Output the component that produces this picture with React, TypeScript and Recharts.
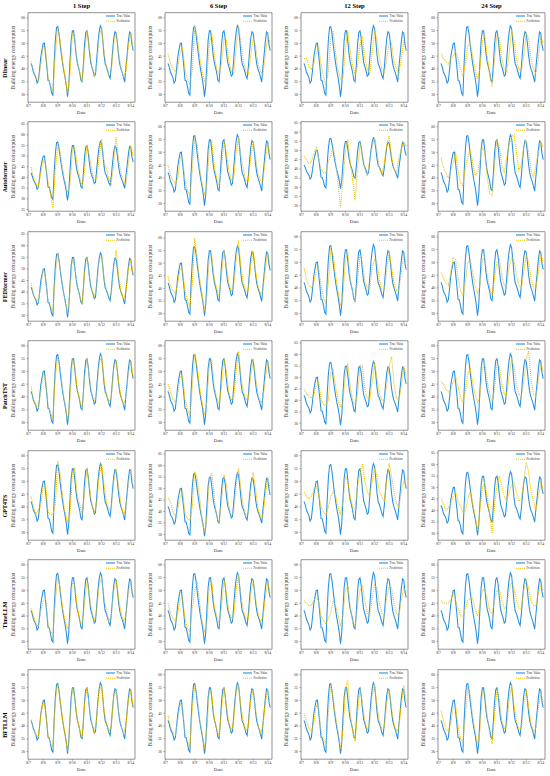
import { LineChart, Line, XAxis, YAxis, ReferenceArea } from 'recharts';

const FONT = '"Liberation Serif", "Times New Roman", serif';
const TRUE_COLOR = '#2590e0';
const PRED_COLOR = '#f2c300';

const steps = ['1 Step', '6 Step', '12 Step', '24 Step'];
const models = ['Dlinear', 'Autoformer', 'FEDformer', 'PatchTST', 'GPT4TS', 'TimeLLM', 'BFTLLM'];
const dateTicks = ['8/7', '8/8', '8/9', '8/10', '8/11', '8/12', '8/13', '8/14'];

// true value, every 2 hours from 8/7 04:00
const trueValue = [
  42.2, 40.8, 38.7, 37.7, 36.6, 34.5, 35.4, 39.6, 44.6, 47.5,
  49.9, 50.1, 45.6, 41.0, 35.5, 35.3, 33.1, 30.5, 29.8, 42.3, 51.2, 56.3,
  56.6, 53.8, 49.5, 45.6, 42.1, 39.1, 36.6, 33.5, 29.2, 33.4, 42.7, 51.3,
  54.9, 54.9, 50.8, 45.9, 42.6, 40.7, 38.6, 35.6, 35.0, 41.5, 49.5, 54.3,
  54.9, 52.0, 46.8, 42.6, 40.9, 39.2, 37.2, 37.8, 43.8, 50.0, 54.4, 56.9,
  55.9, 51.1, 45.5, 41.9, 40.9, 39.2, 37.4, 36.3, 40.6, 46.6, 52.0, 54.6,
  54.0, 50.1, 45.2, 41.8, 39.9, 38.6, 36.8, 34.9, 40.6, 45.6, 50.8, 54.5,
  54.0, 49.5, 47.2,
];

// predictions, every 4 hours from 8/7 04:00
const dlinear1 = [43, 39.5, 37, 35, 41, 49, 47, 37, 33.5, 31, 46, 56, 51, 43, 37, 30.5, 38, 54, 52, 43, 39, 35, 46, 55, 48, 41, 37.5, 41, 53, 56, 47, 41, 37.5, 39, 50, 54, 46.5, 40, 37, 39, 49, 54, 48];
const dlinear6 = [46, 42, 40, 39, 40, 47, 48, 40, 36, 34, 40, 57, 53, 45, 39, 35, 37, 50, 54, 46, 40, 38, 42, 52, 51, 43, 39, 38.5, 48, 57, 50, 43, 39, 38, 45, 52, 49, 42, 39, 38, 45, 53, 50];
const dlinear12 = [44, 44, 41, 40, 42, 46, 49, 42, 37, 34, 39, 52, 55, 46, 40, 36, 36, 48, 55, 47, 41, 38, 41, 50, 53, 44, 40, 38, 46, 55, 51, 44, 40, 38, 44, 50, 50, 43, 40, 38, 44, 51, 50];
const dlinear24 = [46, 44, 43, 42, 44, 45, 47, 44, 40, 37, 42, 49, 50, 45, 40, 36, 40, 51, 53, 45, 38, 33, 44, 53, 52, 44, 40, 39, 46, 55, 51, 44, 40, 39, 45, 54, 52, 44, 40, 38, 44, 52, 50];

const autoformer1 = [45, 40, 37, 36, 42, 48, 46, 38, 32, 25.5, 44, 54, 52, 44, 38, 33, 36, 52, 54, 46, 40, 36, 43, 55, 50, 43, 39, 39, 50, 58, 48, 44, 39, 37, 47, 59, 48, 42, 38, 37, 46, 55, 50];
const autoformer6 = [45, 41, 39, 38, 40, 48, 48, 39, 35, 33, 43, 55, 53, 44, 38, 33, 38, 52, 54, 45, 40, 37, 44, 54, 50, 43, 39, 40, 50, 56, 48, 43, 39, 39, 48, 54, 48, 42, 39, 39, 47, 53, 49];
const autoformer12 = [47, 45, 43, 44, 48, 52, 46, 40, 38, 38, 44, 47, 52, 44, 32, 19, 33, 50, 56, 44, 34, 23, 40, 54, 48, 40, 36, 45, 52, 57, 50, 40, 37, 43, 53, 58, 47, 40, 38, 46, 51, 55, 52];
const autoformer24 = [48, 44, 42, 40, 43, 46, 50, 43, 38, 37, 44, 48, 51, 46, 41, 42, 47, 52, 50, 40, 34, 33, 45, 55, 52, 45, 42, 48, 53, 56, 57, 50, 43, 45, 52, 55, 50, 43, 40, 45, 50, 54, 52];

const fedformer1 = [44, 39, 37, 36, 42, 50, 46, 36, 34, 32, 47, 57, 50, 43, 36, 31, 40, 54, 51, 43, 38, 35, 48, 55, 47, 41, 38, 42, 54, 56, 46, 41, 38, 39, 51, 58, 47, 40, 37, 40, 50, 54, 48];
const fedformer6 = [45, 41, 39, 38, 42, 48, 47, 39, 35, 33, 42, 60, 52, 44, 38, 31, 37, 53, 53, 44, 40, 37, 45, 55, 49, 42, 39, 41, 51, 59, 48, 42, 39, 39, 49, 55, 47, 41, 38, 39, 48, 54, 49];
const fedformer12 = [48, 43, 41, 40, 42, 47, 48, 41, 36, 34, 42, 55, 53, 45, 39, 33, 37, 51, 54, 44, 38, 34, 43, 53, 50, 43, 40, 40, 48, 51, 50, 43, 39, 39, 47, 54, 48, 42, 39, 39, 46, 53, 50];
const fedformer24 = [46, 44, 42, 41, 46, 52, 51, 44, 39, 37, 42, 50, 51, 46, 41, 38, 41, 51, 52, 45, 40, 37, 44, 50, 51, 45, 41, 41, 48, 52, 51, 45, 41, 40, 46, 53, 50, 44, 40, 40, 46, 53, 50];

const patchtst1 = [44, 39, 37, 35.5, 42, 49, 47, 37, 33.5, 32, 48, 56, 51, 43, 37, 31, 39, 54, 52, 43, 39, 35.5, 47, 55, 48, 41, 38, 42, 53, 56, 47, 41, 38, 40, 51, 54, 46, 40, 37, 40, 49, 54, 48];
const patchtst6 = [45, 42, 39, 38, 41, 48, 48, 39, 35, 33, 44, 57, 52, 44, 38, 33, 38, 53, 54, 44, 40, 37, 44, 55, 50, 42, 39, 40, 50, 58, 48, 42, 39, 39, 48, 55, 48, 41, 38, 39, 47, 54, 49];
const patchtst12 = [45, 43, 42, 41, 42, 46, 48, 41, 38, 38, 40, 52, 53, 46, 40, 37, 39, 51, 56, 46, 40, 38, 43, 54, 55, 45, 41, 40, 48, 56, 50, 43, 40, 40, 47, 55, 59, 47, 41, 40, 46, 55, 51];
const patchtst24 = [46, 45, 43, 42, 43, 46, 48, 44, 40, 38, 42, 49, 51, 46, 41, 38, 40, 51, 53, 46, 41, 38, 43, 53, 52, 45, 41, 41, 48, 55, 52, 45, 41, 40, 46, 55, 58, 47, 41, 40, 46, 53, 50];

const gpt4ts1 = [44, 40, 37, 39, 40, 48, 49, 38, 37, 37, 41, 58, 53, 44, 38, 34, 37, 53, 55, 45, 41, 37, 45, 55, 48, 41, 38, 41, 52, 57, 49, 42, 39, 39, 50, 55, 48, 41, 37, 39, 49, 55, 48];
const gpt4ts6 = [46, 44, 40, 38, 41, 46, 49, 39, 37, 36, 42, 57, 55, 46, 36, 31, 37, 54, 57, 46, 38, 35, 44, 56, 52, 42, 38, 40, 51, 59, 50, 42, 38, 39, 49, 57, 50, 41, 38, 38, 47, 55, 50];
const gpt4ts12 = [46, 44, 43, 44, 47, 48, 45, 40, 38, 37, 40, 44, 46, 44, 40, 37, 42, 52, 50, 44, 40, 39, 48, 53, 57, 50, 46, 44, 50, 55, 52, 46, 44, 42, 50, 57, 52, 46, 41, 40, 46, 50, 48];
const gpt4ts24 = [45, 43, 40, 41, 43, 46, 48, 44, 42, 39, 40, 45, 48, 43, 38, 31, 40, 50, 52, 46, 38, 30, 42, 51, 55, 50, 46, 44, 48, 51, 52, 48, 44, 45, 52, 61, 57, 48, 44, 40, 46, 52, 49];

const timellm1 = [43, 40, 37, 36, 42, 46, 47, 37, 34, 33, 46, 55, 51, 43, 38, 35, 38, 53, 52, 44, 38, 37, 45, 54, 48, 42, 38, 42, 52, 55, 47, 42, 38, 40, 50, 54, 47, 41, 38, 40, 49, 53, 48];
const timellm6 = [45, 41, 39, 38, 41, 47, 47, 39, 35, 34, 43, 50, 53, 45, 38, 34, 37, 52, 53, 44, 40, 37, 44, 54, 49, 42, 39, 40, 50, 56, 48, 42, 39, 39, 48, 54, 47, 41, 38, 39, 47, 53, 49];
const timellm12 = [46, 45, 44, 44, 46, 47, 46, 40, 38, 37, 39, 41, 46, 44, 40, 36, 40, 50, 52, 44, 37, 36, 44, 50, 52, 46, 41, 40, 47, 52, 51, 45, 41, 40, 47, 52, 51, 45, 41, 40, 46, 51, 49];
const timellm24 = [46, 45, 45, 45, 46, 49, 46, 43, 40, 40, 43, 46, 47, 47, 43, 40, 44, 50, 50, 47, 42, 41, 46, 50, 50, 46, 43, 44, 50, 53, 51, 46, 43, 43, 50, 54, 51, 46, 44, 44, 49, 52, 50];

const bftllm1 = [42.5, 39, 36.8, 35.5, 44, 49.5, 46, 36, 33.3, 31.8, 50, 56.4, 50, 42.5, 36.8, 30.2, 41.5, 54.6, 51.3, 42.8, 38.8, 35.2, 48.5, 54.8, 47.4, 41.2, 37.4, 43, 54, 55.7, 46.2, 41.2, 37.6, 40.2, 51.4, 53.8, 45.8, 40.2, 37, 40.2, 50.2, 53.8, 47.6];
const bftllm6 = [44, 40, 37.5, 36.5, 42, 49, 47, 37, 34, 32, 47, 56, 51, 43, 37.5, 31, 39, 54, 52, 43, 39, 36, 46, 55, 48, 41.5, 38, 42, 53, 56, 47, 41.5, 38, 40, 50, 54, 46.5, 40.5, 37.5, 40, 49, 54, 48];
const bftllm12 = [45, 42, 39, 38, 41, 48, 47, 38, 34.5, 33, 45, 56, 51, 43.5, 38, 31, 38, 54, 58, 45, 38, 34, 45, 54.5, 49, 42, 38.5, 41, 52, 56, 48, 42, 38.5, 39.5, 49, 54, 47, 41, 38, 39.5, 48, 56, 49];
const bftllm24 = [46, 42, 39, 38, 41, 47, 48, 40, 35, 34, 43, 55, 52, 44, 38, 33, 38, 53, 53, 44, 37, 33, 44, 54, 50, 42, 39, 40, 50, 56, 48, 42, 39, 39, 48, 54, 48, 41, 38, 39, 47, 53, 49];

const predRowsByModel = [
  [dlinear1, dlinear6, dlinear12, dlinear24],
  [autoformer1, autoformer6, autoformer12, autoformer24],
  [fedformer1, fedformer6, fedformer12, fedformer24],
  [patchtst1, patchtst6, patchtst12, patchtst24],
  [gpt4ts1, gpt4ts6, gpt4ts12, gpt4ts24],
  [timellm1, timellm6, timellm12, timellm24],
  [bftllm1, bftllm6, bftllm12, bftllm24],
];

// y limits
const yLimits = [
  [[27, 62], [27, 62], [27, 62], [27, 62]],
  [[24.2, 66.1], [27, 62], [17, 65.7], [27, 62]],
  [[27.5, 66], [27, 62.5], [27, 62], [27, 62]],
  [[27, 62], [27, 62], [27, 66], [27, 62]],
  [[27, 62], [27.5, 66.5], [27, 62], [27, 66]],
  [[27, 62], [27, 62], [27, 62], [27, 62]],
  [[27, 62], [27, 62], [27, 62], [27, 62]],
];

const trueRows = trueValue.map((v, i) => ({ t: (4 + 2 * i) / 24, v }));
const toRows = (arr: number[]) => arr.map((v, i) => ({ t: (4 + 4 * i) / 24, v }));

const COL_W = 136.6;
const ROW_H = 109.43;
const PW = 137;
const PH_TOTAL = 122;
const PLOT_L = 28;
const PLOT_T = 12.7;
const PLOT_W = 107;
const PLOT_H = 89.5;
const Y_AXIS_W = 12;
const X_AXIS_H = 9;
const X0 = -0.04;
const X1 = 7.29;

function Panel({ row, col }: { row: number; col: number }) {
  const [lo, hi] = yLimits[row][col];
  const ticks: number[] = [];
  for (let v = Math.ceil(lo / 5) * 5; v <= hi; v += 5) ticks.push(v);
  const pred = toRows(predRowsByModel[row][col]);
  const cx = PLOT_L + PLOT_W / 2;
  const tickStyle = { fontSize: 3.8, fill: '#333', fontFamily: FONT };

  return (
    <div style={{ position: 'absolute', left: col * COL_W, top: row * ROW_H, width: PW, height: PH_TOTAL }}>
      <LineChart
        width={PW}
        height={PH_TOTAL}
        margin={{
          top: PLOT_T,
          left: PLOT_L - Y_AXIS_W,
          right: PW - PLOT_L - PLOT_W,
          bottom: PH_TOTAL - PLOT_T - PLOT_H - X_AXIS_H,
        }}
      >
        <XAxis
          type="number"
          dataKey="t"
          domain={[X0, X1]}
          ticks={[0, 1, 2, 3, 4, 5, 6, 7]}
          tickFormatter={(d: number) => dateTicks[d]}
          allowDataOverflow
          interval={0}
          height={X_AXIS_H}
          axisLine={false}
          tickSize={1.5}
          tickMargin={1}
          tickLine={{ stroke: '#555', strokeWidth: 0.5 }}
          tick={tickStyle}
        />
        <YAxis
          type="number"
          domain={[lo, hi]}
          ticks={ticks}
          allowDataOverflow
          interval={0}
          width={Y_AXIS_W}
          axisLine={false}
          tickSize={1.5}
          tickMargin={1.5}
          tickLine={{ stroke: '#555', strokeWidth: 0.5 }}
          tick={tickStyle}
        />
        <Line data={trueRows} dataKey="v" type="linear" stroke={TRUE_COLOR} strokeWidth={1.05} dot={false} isAnimationActive={false} />
        <Line data={pred} dataKey="v" type="linear" stroke={PRED_COLOR} strokeWidth={1.05} strokeDasharray="1.1 0.9" dot={false} isAnimationActive={false} />
        <ReferenceArea x1={X0} x2={X1} y1={lo} y2={hi} fill="none" stroke="#666" strokeWidth={0.7} ifOverflow="visible" />
      </LineChart>
      <svg
        width={PW}
        height={PH_TOTAL}
        style={{ position: 'absolute', left: 0, top: 0, overflow: 'visible', pointerEvents: 'none' }}
        fontFamily={FONT}
      >
        {row === 0 && (
          <text x={cx} y={8.2} textAnchor="middle" fontSize={6.5} fontWeight="bold" fill="#000">
            {steps[col]}
          </text>
        )}
        {col === 0 && (
          <text x={7} y={68} textAnchor="middle" fontSize={6} fontWeight="bold" fill="#000" transform="rotate(-90 7 68)">
            {models[row]}
          </text>
        )}
        <text x={15.2} y={PLOT_T + PLOT_H / 2} textAnchor="middle" fontSize={5.4} fill="#444" transform={`rotate(-90 15.2 ${PLOT_T + PLOT_H / 2})`}>
          Building energy consumption
        </text>
        <text x={cx} y={PLOT_T + PLOT_H + 12.2} textAnchor="middle" fontSize={5} fill="#333">
          Date
        </text>
        <line x1={106} x2={115} y1={16} y2={16} stroke={TRUE_COLOR} strokeWidth={1.1} />
        <text x={116.6} y={17.1} fontSize={3.2} fill="#333">True Value</text>
        <line x1={106} x2={115} y1={21.3} y2={21.3} stroke={PRED_COLOR} strokeWidth={1.05} strokeDasharray="1.1 0.9" />
        <text x={116.6} y={22.4} fontSize={3.2} fill="#333">Prediction</text>
      </svg>
    </div>
  );
}

export default function App() {
  return (
    <div style={{ position: 'absolute', left: 0, top: 0, width: 550, height: 776, background: '#fff', overflow: 'hidden' }}>
      {models.map((_, r) => steps.map((__, c) => <Panel key={`${r}-${c}`} row={r} col={c} />))}
    </div>
  );
}
